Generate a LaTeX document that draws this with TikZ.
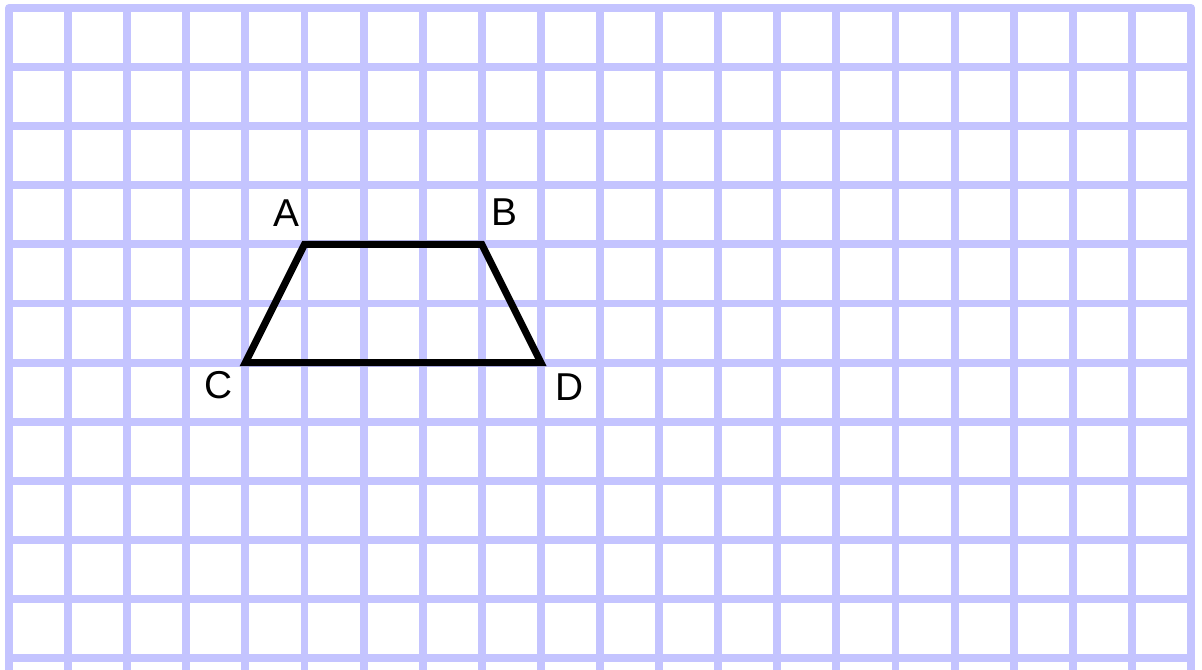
\documentclass[tikz,border=0pt]{standalone}
\usepackage{fontspec}
\setmainfont{Liberation Sans}
\usepackage{tikz}
\usetikzlibrary{calc}
\definecolor{GridBlue}{HTML}{C4C4FF}
\tikzset{
    gridline/.style={GridBlue, line width=3.8pt, line cap=round, line join=round},
    trapline/.style={black, line width=3.4pt, line join=miter},
    vlabel/.style={font=\fontsize{18.7}{22}\selectfont, inner sep=0pt}
}

\begin{document}
\begin{tikzpicture}
    % Page frame
    \useasboundingbox (-0.152,0.135) rectangle (20.186,-11.2);
    \clip (-0.152,0.135) rectangle (20.186,-11.2);

    % Squared paper
    \draw[gridline, step=1] (0,-12) grid (20,0);

    % Corners
    \coordinate (A) at (5,-4);
    \coordinate (B) at (8,-4);
    \coordinate (C) at (4,-6);
    \coordinate (D) at (9,-6);

    % Trapezoid
    \draw[trapline] (A) -- (B) -- (D) -- (C) -- cycle;

    % Labels
    \node[vlabel] (labA) at ($(A)+(-0.30,0.53)$) {A};
    \node[vlabel] (labB) at ($(B)+(0.38,0.55)$) {B};
    \node[vlabel] (labC) at ($(C)+(-0.46,-0.38)$) {C};
    \node[vlabel] (labD) at ($(D)+(0.48,-0.41)$) {D};
\end{tikzpicture}
\end{document}
